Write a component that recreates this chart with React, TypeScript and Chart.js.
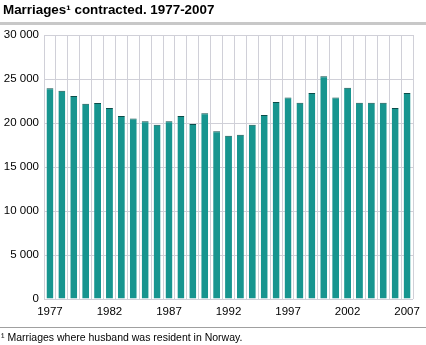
import React, { useEffect, useRef } from "react";
import { Chart, registerables } from "chart.js";

Chart.register(...registerables);

const years: string[] = [
  "1977", "1978", "1979", "1980", "1981", "1982", "1983", "1984", "1985", "1986",
  "1987", "1988", "1989", "1990", "1991", "1992", "1993", "1994", "1995", "1996",
  "1997", "1998", "1999", "2000", "2001", "2002", "2003", "2004", "2005", "2006", "2007",
];
const marriages: number[] = [
  23960, 23670, 23070, 22190, 22270, 21700, 20800, 20500, 20200, 19800,
  20200, 20800, 19900, 21100, 19050, 18560, 18670, 19800, 20900, 22400,
  22900, 22300, 23400, 25300, 22900, 24000, 22300, 22300, 22300, 21700, 23400,
];
const labelYears: string[] = ["1977", "1982", "1987", "1992", "1997", "2002", "2007"];
const titleText = "Marriages¹ contracted. 1977-2007";
const footnoteText = "¹ Marriages where husband was resident in Norway.";

export default function App() {
  const ref = useRef<HTMLCanvasElement | null>(null);

  useEffect(() => {
    document.body.style.margin = "0";
    const ctx = ref.current;
    if (!ctx) return;
    const chart = new Chart(ctx, {
      type: "bar",
      data: {
        labels: years,
        datasets: [
          {
            data: marriages,
            backgroundColor: "#17958f",
            borderColor: "#0b4d4a",
            borderWidth: { top: 1, left: 0, right: 0, bottom: 0 },
            borderSkipped: false,
            barPercentage: 0.58,
            categoryPercentage: 1,
          },
        ],
      },
      options: {
        responsive: false,
        animation: false,
        maintainAspectRatio: false,
        layout: { padding: { top: 35, right: 8, bottom: 26, left: 0 } },
        plugins: { legend: { display: false }, tooltip: { enabled: false }, title: { display: false } },
        scales: {
          x: {
            grid: { color: "#d0d0d8", lineWidth: 1, drawTicks: false, offset: true },
            border: { display: false },
            ticks: {
              autoSkip: false,
              maxRotation: 0,
              padding: 6,
              color: "#000",
              font: { family: "Liberation Sans, Arial, sans-serif", size: 11.5 },
              callback: function (value: any) {
                const lab = years[value as number];
                return labelYears.includes(lab) ? lab : "";
              },
            },
            afterFit: (scale: any) => {
              scale.height = 20;
            },
          },
          y: {
            min: 0,
            max: 30000,
            grid: { color: "#d0d0d8", lineWidth: 1, drawTicks: false },
            border: { display: false },
            ticks: {
              stepSize: 5000,
              padding: 5,
              color: "#000",
              font: { family: "Liberation Sans, Arial, sans-serif", size: 11.5 },
              callback: (v: any) => {
                const n = Number(v);
                return n.toString().replace(/\B(?=(\d{3})+(?!\d))/g, " ");
              },
            },
            afterFit: (scale: any) => {
              scale.width = 44;
            },
          },
        },
      },
    });
    return () => chart.destroy();
  }, []);

  return (
    <div style={{ position: "relative", width: 426, height: 345, background: "#fff", fontFamily: "Liberation Sans, Arial, sans-serif" }}>
      <canvas ref={ref} width={426} height={345} style={{ position: "absolute", left: 0, top: 0, width: 426, height: 345 }} />
      <div style={{ position: "absolute", left: 3, top: 2, fontSize: 13.4, fontWeight: "bold", color: "#000", whiteSpace: "nowrap", lineHeight: "15px" }}>
        {titleText}
      </div>
      <div style={{ position: "absolute", left: 0, top: 22, width: 426, height: 3, background: "#c8c8c8" }} />
      <div style={{ position: "absolute", left: 0, top: 327, width: 426, height: 1, background: "#a0a0a0" }} />
      <div style={{ position: "absolute", left: 1, top: 331, fontSize: 10.5, color: "#000", whiteSpace: "nowrap", lineHeight: "12px" }}>
        {footnoteText}
      </div>
    </div>
  );
}
